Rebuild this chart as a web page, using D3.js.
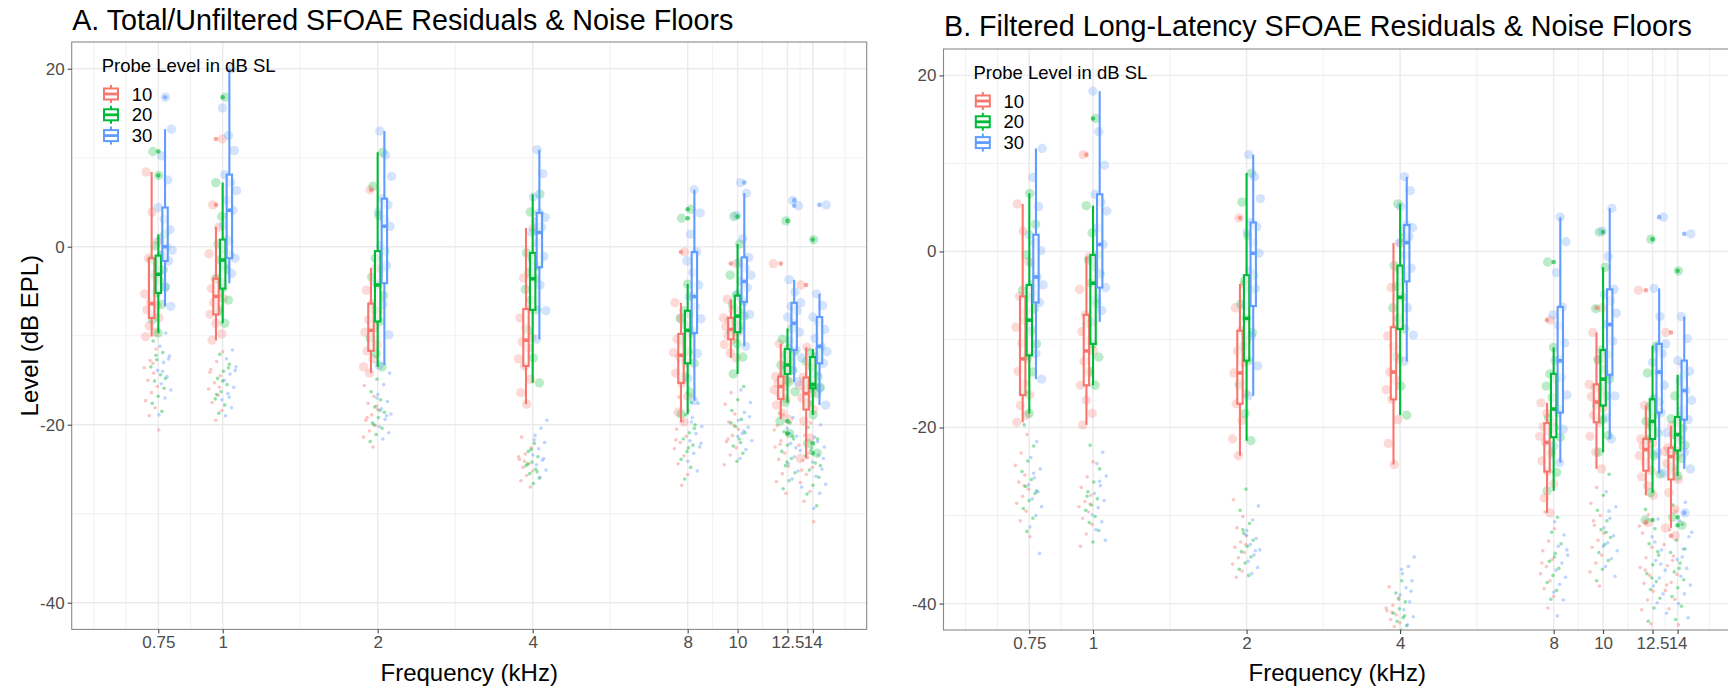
<!DOCTYPE html>
<html><head><meta charset="utf-8">
<script src="https://cdn.jsdelivr.net/npm/d3@7"></script>
<style>
body{margin:0;background:#fff;}
svg{display:block;font-family:"Liberation Sans",Arial,Helvetica,sans-serif;}
</style>
</head><body>
<svg id="chart" width="1728" height="689"></svg>
<script>
// ---------------- DATA ----------------
const freqs = [0.75, 1, 2, 4, 8, 10, 12.5, 14];
const freqLabels = ["0.75", "1", "2", "4", "8", "10", "12.5", "14"];
const levels = ["10", "20", "30"];
const levelColors = ["#F8766D", "#00BA38", "#619CFF"];
const yTicks = [20, 0, -20, -40];
const titles = ["A. Total/Unfiltered SFOAE Residuals & Noise Floors",
                "B. Filtered Long-Latency SFOAE Residuals & Noise Floors"];
const legendTitle = "Probe Level in dB SL";
const xTitle = "Frequency (kHz)";
const yTitle = "Level (dB EPL)";

// box stats per frequency: [lower whisker, q1, median, q3, upper whisker]
const boxA_10 = [[-10.1,-8.0,-6.4,-1.3,8.4],[-10.5,-7.6,-5.6,-3.6,2.2],[-14.2,-11.7,-9.4,-6.4,-2.4],[-17.7,-13.4,-10.5,-7.0,2.1],
                 [-19.7,-15.3,-12.2,-9.8,-6.3],[-12.5,-10.4,-9.3,-8.0,-5.9],[-19.4,-17.1,-15.7,-14.6,-10.9],[-23.8,-18.3,-16.5,-14.7,-11.3]];
const boxA_20 = [[-9.7,-5.2,-3.1,-1.0,1.4],[-8.6,-4.7,-1.5,0.8,7.2],[-13.5,-8.4,-4.3,-0.5,10.6],[-15.3,-7.1,-3.6,-0.7,5.9],
                 [-18.8,-13.1,-9.4,-7.2,-4.2],[-14.3,-9.6,-7.8,-5.5,0.3],[-17.5,-14.3,-13.3,-11.5,-9.2],[-18.9,-15.9,-15.5,-12.4,-11.5]];
const boxA_30 = [[-6.7,-1.6,0.0,4.4,13.2],[-4.1,-1.3,4.1,8.1,20.0],[-13.3,-4.1,2.3,5.4,13.0],[-10.4,-2.3,1.6,3.8,10.9],
                 [-17.3,-9.7,-5.6,-0.6,6.4],[-11.2,-6.2,-3.9,-1.2,6.0],[-15.2,-11.6,-8.6,-6.3,-3.7],[-17.8,-13.1,-11.2,-7.9,-5.3]];
const boxB_10 = [[-19.4,-16.3,-12.2,-5.1,5.4],[-19.7,-15.2,-11.3,-7.2,-0.6],[-23.2,-17.3,-13.8,-9.0,-3.7],[-24.2,-16.8,-13.7,-8.6,0.95],
                 [-29.7,-25.0,-21.7,-19.5,-17.2],[-24.7,-19.4,-17.1,-15.1,-9.2],[-27.7,-24.9,-22.5,-21.3,-17.5],[-31.4,-25.9,-23.3,-22.3,-19.8]];
const boxB_20 = [[-18.4,-11.8,-7.8,-3.8,6.6],[-15.2,-10.5,-3.6,-0.4,5.2],[-21.5,-12.4,-7.6,-2.7,8.9],[-18.6,-8.8,-5.2,-1.6,5.4],
                 [-27.2,-21.1,-17.9,-13.9,-10.9],[-22.8,-17.5,-14.5,-11.2,-1.8],[-27.4,-21.3,-19.3,-16.8,-10.7],[-25.5,-22.6,-20.8,-18.8,-14.0]];
const boxB_30 = [[-14.5,-5.8,-2.9,1.9,11.7],[-8.0,-4.1,0.8,6.5,18.2],[-16.4,-6.2,-0.2,3.3,11.0],[-12.5,-3.4,1.0,3.0,8.5],
                 [-24.0,-18.3,-12.4,-6.3,3.9],[-21.3,-14.0,-8.3,-4.3,4.9],[-25.2,-18.3,-13.7,-10.5,-4.2],[-24.7,-19.1,-15.8,-12.4,-7.4]];

// boxplot outliers per frequency
const outA_10 = [[],[12.1,4.7],[6.4],[],[-0.6],[-1.9],[-1.9],[-4.3]];
const outA_20 = [[10.7,8.0],[16.8],[],[],[4.2,3.2],[3.4],[2.9,-19.6,-21.0],[0.8,-22.1,-23.2]];
const outA_30 = [[16.8],[],[],[],[],[7.2],[5.2,4.6],[4.7]];
const outB_10 = [[],[11.0],[3.8],[],[-7.8],[-6.4],[-4.4,-30.8],[-9.2,-32.3]];
const outB_20 = [[],[15.1],[],[],[-1.2],[2.2],[1.4,-30.5],[-2.2,-30.2,-31.1]];
const outB_30 = [[],[],[],[],[],[],[3.9],[2.0,-29.7]];

// individual residual levels (jittered circles)
const resA_10 = [[-10.1,-9.6,-8.9,-8.0,-7.6,-7.1,-6.6,-6.2,-5.3,-3.4,-1.3,0.6,3.9,8.4],
  [-10.5,-9.8,-8.6,-7.6,-7.0,-6.3,-5.8,-5.4,-4.7,-4.0,-3.6,-0.8,2.2,4.7,12.1],
  [-14.2,-13.5,-12.6,-11.7,-11.0,-10.2,-9.6,-9.1,-8.2,-7.3,-6.4,-4.9,-2.4,6.4],
  [-17.7,-16.4,-14.9,-13.4,-12.6,-11.4,-10.7,-10.2,-9.1,-8.0,-7.0,-3.5,2.1],
  [-19.7,-18.6,-16.8,-15.3,-14.2,-13.0,-12.4,-11.9,-11.0,-10.4,-9.8,-8.0,-6.3,-0.6],
  [-12.5,-11.9,-11.0,-10.4,-10.0,-9.6,-9.3,-9.0,-8.6,-8.3,-8.0,-7.1,-5.9,-1.9],
  [-19.4,-18.7,-17.8,-17.1,-16.6,-16.1,-15.7,-15.4,-15.0,-14.8,-14.6,-13.2,-10.9,-1.9],
  [-23.8,-21.5,-19.6,-18.3,-17.6,-17.0,-16.5,-16.1,-15.6,-15.1,-14.7,-13.3,-11.3,-4.3]];
const resA_20 = [[-9.7,-8.2,-6.5,-5.2,-4.5,-3.8,-3.1,-2.6,-2.0,-1.5,-1.0,0.1,1.4,8.0,10.7],
  [-8.6,-7.3,-6.0,-4.7,-3.6,-2.5,-1.5,-0.9,-0.3,0.3,0.8,3.4,7.2,16.8],
  [-13.5,-12.0,-10.3,-8.4,-7.1,-5.5,-4.3,-3.4,-2.5,-1.3,-0.5,3.5,6.8,10.6],
  [-15.3,-12.5,-9.4,-7.1,-6.0,-4.8,-3.6,-2.9,-2.1,-1.4,-0.7,1.8,3.9,5.9],
  [-18.8,-16.4,-14.6,-13.1,-11.8,-10.5,-9.4,-8.8,-8.1,-7.6,-7.2,-5.6,-4.2,3.2,4.2],
  [-14.3,-12.4,-10.9,-9.6,-8.9,-8.3,-7.8,-7.2,-6.5,-6.0,-5.5,-3.2,0.3,3.4],
  [-17.5,-16.3,-15.2,-14.3,-13.9,-13.6,-13.3,-12.8,-12.2,-11.8,-11.5,-10.4,-9.2,2.9,-19.6,-21.0],
  [-18.9,-17.6,-16.5,-15.9,-15.8,-15.6,-15.5,-14.6,-13.6,-12.9,-12.4,-11.9,-11.5,0.8,-22.1,-23.2]];
const resA_30 = [[-6.7,-4.6,-2.9,-1.6,-0.9,-0.4,0.0,0.8,1.9,3.1,4.4,7.5,10.2,13.2,16.8],
  [-4.1,-3.0,-2.1,-1.3,0.6,2.4,4.1,5.2,6.3,7.2,8.1,10.8,12.5,15.6,20.0],
  [-13.3,-9.9,-6.5,-4.1,-2.1,0.1,2.3,3.1,3.9,4.7,5.4,7.9,10.3,13.0],
  [-10.4,-7.2,-4.3,-2.3,-1.1,0.4,1.6,2.2,2.8,3.3,3.8,5.6,8.2,10.9],
  [-17.3,-14.8,-12.0,-9.7,-8.1,-6.7,-5.6,-4.3,-2.9,-1.6,-0.6,1.4,3.8,6.4],
  [-11.2,-9.4,-7.6,-6.2,-5.3,-4.6,-3.9,-3.2,-2.4,-1.8,-1.2,0.9,3.5,6.0,7.2],
  [-15.2,-13.8,-12.5,-11.6,-10.6,-9.6,-8.6,-7.9,-7.2,-6.7,-6.3,-5.1,-3.7,4.6,5.2],
  [-17.8,-15.9,-14.2,-13.1,-12.4,-11.8,-11.2,-10.3,-9.3,-8.5,-7.9,-6.6,-5.3,4.7]];
const resB_10 = [[-19.4,-18.6,-17.5,-16.3,-15.0,-13.6,-12.2,-10.4,-8.6,-6.8,-5.1,-1.2,2.3,5.4],
  [-19.7,-18.4,-16.9,-15.2,-13.8,-12.5,-11.3,-10.2,-9.1,-8.1,-7.2,-4.3,-0.6,11.0],
  [-23.2,-21.3,-19.2,-17.3,-16.1,-14.9,-13.8,-12.6,-11.3,-10.1,-9.0,-6.4,-3.7,3.8],
  [-24.2,-21.8,-19.1,-16.8,-15.7,-14.6,-13.7,-12.2,-10.8,-9.6,-8.6,-4.1,0.95],
  [-29.7,-28.0,-26.4,-25.0,-23.8,-22.7,-21.7,-21.0,-20.4,-19.9,-19.5,-18.4,-17.2,-7.8],
  [-24.7,-22.8,-21.0,-19.4,-18.6,-17.8,-17.1,-16.5,-15.9,-15.5,-15.1,-12.3,-9.2,-6.4],
  [-27.7,-26.6,-25.6,-24.9,-24.0,-23.2,-22.5,-22.1,-21.8,-21.5,-21.3,-19.6,-17.5,-4.4,-30.8],
  [-31.4,-29.3,-27.4,-25.9,-25.0,-24.1,-23.3,-23.0,-22.7,-22.5,-22.3,-21.0,-19.8,-9.2,-32.3]];
const resB_20 = [[-18.4,-16.0,-13.7,-11.8,-10.5,-9.1,-7.8,-6.5,-5.2,-4.4,-3.8,-0.4,3.1,6.6],
  [-15.2,-13.6,-12.0,-10.5,-8.2,-5.9,-3.6,-2.6,-1.7,-1.0,-0.4,2.1,5.2,15.1],
  [-21.5,-18.4,-15.2,-12.4,-10.8,-9.2,-7.6,-6.0,-4.4,-3.4,-2.7,1.8,5.6,8.9],
  [-18.6,-15.3,-11.9,-8.8,-7.6,-6.4,-5.2,-4.0,-2.8,-2.1,-1.6,1.5,5.4],
  [-27.2,-25.1,-23.0,-21.1,-20.0,-18.9,-17.9,-16.6,-15.3,-14.5,-13.9,-12.3,-10.9,-1.2],
  [-22.8,-20.9,-19.1,-17.5,-16.4,-15.4,-14.5,-13.4,-12.3,-11.7,-11.2,-6.5,-1.8,2.2],
  [-27.4,-25.3,-23.2,-21.3,-20.6,-19.9,-19.3,-18.5,-17.6,-17.1,-16.8,-13.8,-10.7,1.4,-30.5],
  [-25.5,-24.5,-23.5,-22.6,-22.0,-21.4,-20.8,-20.1,-19.4,-19.0,-18.8,-16.4,-14.0,-2.2,-30.2,-31.1]];
const resB_30 = [[-14.5,-11.6,-8.7,-5.8,-4.8,-3.8,-2.9,-1.3,0.1,1.0,1.9,5.1,8.4,11.7],
  [-8.0,-6.7,-5.4,-4.1,-2.4,-0.8,0.8,2.7,4.6,5.6,6.5,9.8,13.6,18.2],
  [-16.4,-13.0,-9.6,-6.2,-4.2,-2.2,-0.2,1.0,2.2,2.8,3.3,6.0,8.5,11.0],
  [-12.5,-9.5,-6.4,-3.4,-1.9,-0.4,1.0,1.7,2.3,2.7,3.0,5.1,6.9,8.5],
  [-24.0,-22.1,-20.2,-18.3,-16.3,-14.3,-12.4,-10.4,-8.4,-7.2,-6.3,-2.4,1.1,3.9],
  [-21.3,-18.9,-16.4,-14.0,-12.1,-10.2,-8.3,-7.0,-5.6,-4.9,-4.3,-0.6,2.3,4.9],
  [-25.2,-22.9,-20.6,-18.3,-16.7,-15.2,-13.7,-12.6,-11.6,-11.0,-10.5,-7.4,-4.2,3.9],
  [-24.7,-22.8,-21.0,-19.1,-18.0,-16.9,-15.8,-14.7,-13.6,-12.9,-12.4,-9.9,-7.4,2.0,-29.7]];

// noise floor levels (small jittered dots)
const noiseA_10 = [[-11.5,-12.8,-13.6,-14.2,-15.0,-15.7,-16.4,-17.3,-18.1,-19.0,-20.6,-13.1],
  [-11.8,-12.9,-13.8,-14.5,-15.3,-16.0,-16.7,-17.5,-18.4,-19.5,-14.1,-15.8],
  [-15.6,-16.8,-17.6,-18.3,-18.9,-19.5,-20.1,-20.7,-21.4,-22.5,-19.2,-17.9],
  [-21.4,-22.6,-23.3,-23.9,-24.4,-24.8,-25.2,-25.7,-26.3,-27.0,-24.1,-23.6],
  [-16.9,-18.4,-19.6,-20.5,-21.3,-22.0,-22.7,-23.5,-24.4,-25.6,-26.8,-21.7],
  [-16.4,-17.7,-18.8,-19.7,-20.5,-21.2,-21.9,-22.6,-23.4,-24.5,-20.1,-21.6],
  [-18.9,-20.1,-21.0,-21.8,-22.5,-23.2,-23.9,-24.7,-25.5,-26.4,-27.7,-22.2,-20.6],
  [-19.8,-21.2,-22.3,-23.2,-24.0,-24.8,-25.6,-26.5,-27.5,-28.6,-30.9,-23.7,-25.1]];
const noiseA_20 = [[-10.6,-11.9,-12.7,-13.5,-14.4,-15.1,-15.9,-16.8,-17.6,-18.5,-12.2,-14.8],
  [-12.1,-13.2,-14.0,-14.8,-15.5,-16.3,-17.1,-17.8,-18.7,-13.6,-15.1,-16.6],
  [-14.9,-16.3,-17.2,-18.0,-18.6,-19.2,-19.8,-20.4,-21.1,-21.9,-18.4,-20.0],
  [-22.1,-23.0,-23.6,-24.2,-24.6,-25.0,-25.5,-26.0,-26.6,-24.4,-25.3,-22.8],
  [-17.5,-18.9,-20.0,-20.9,-21.6,-22.3,-23.0,-23.9,-24.8,-26.1,-20.4,-22.6],
  [-15.7,-17.2,-18.4,-19.4,-20.2,-20.9,-21.6,-22.4,-23.2,-24.1,-19.8,-22.0],
  [-18.7,-19.8,-20.8,-21.6,-22.3,-23.0,-23.8,-24.6,-25.4,-26.3,-27.2,-21.3,-24.2],
  [-20.3,-21.6,-22.6,-23.5,-24.3,-25.1,-25.9,-26.8,-27.8,-29.1,-22.9,-24.6]];
const noiseA_30 = [[-9.7,-11.2,-12.3,-13.0,-13.9,-14.6,-15.4,-16.1,-17.0,-18.9,-12.6,-14.0],
  [-11.6,-12.6,-13.5,-14.3,-15.0,-15.8,-16.5,-17.2,-18.1,-19.0,-13.9,-16.9],
  [-14.2,-15.5,-16.6,-17.4,-18.2,-18.8,-19.4,-20.2,-20.9,-21.6,-17.0,-19.0],
  [-19.5,-20.4,-21.2,-22.0,-22.7,-23.4,-24.0,-24.5,-25.1,-25.9,-21.7,-23.8],
  [-15.8,-17.6,-19.2,-20.2,-21.0,-21.8,-22.5,-23.2,-24.1,-25.2,-19.7,-22.1],
  [-16.1,-17.5,-18.6,-19.5,-20.3,-21.0,-21.8,-22.8,-23.8,-19.1,-20.7,-21.3],
  [-19.2,-20.4,-21.3,-22.1,-22.9,-23.6,-24.4,-25.2,-26.1,-27.0,-22.6,-21.0],
  [-20.0,-21.4,-22.5,-23.4,-24.2,-25.0,-25.8,-26.7,-27.7,-29.4,-23.8,-21.9]];
const noiseB_10 = [[-20.8,-22.9,-24.3,-25.4,-26.2,-27.0,-27.8,-28.6,-29.5,-30.6,-32.4,-26.6],
  [-23.9,-25.6,-26.8,-27.7,-28.4,-29.0,-29.6,-30.3,-31.0,-32.1,-33.5,-28.7],
  [-28.2,-30.1,-31.4,-32.3,-33.0,-33.6,-34.2,-34.8,-35.5,-36.3,-37.0,-33.3],
  [-38.1,-39.3,-40.2,-40.8,-41.3,-41.8,-42.2,-42.6,-43.1,-43.8,-41.0,-40.5],
  [-29.6,-31.5,-32.9,-34.0,-35.0,-35.8,-36.6,-37.4,-38.3,-39.2,-40.5,-35.4],
  [-26.8,-28.6,-30.0,-31.1,-32.0,-32.8,-33.6,-34.5,-35.4,-36.4,-38.0,-30.6],
  [-29.9,-32.0,-33.6,-34.8,-35.9,-36.8,-37.7,-38.6,-39.6,-40.7,-42.3,-36.2,-31.2],
  [-29.5,-31.6,-33.3,-34.6,-35.7,-36.7,-37.6,-38.5,-39.5,-40.6,-42.4,-35.1,-37.9]];
const noiseB_20 = [[-19.7,-22.1,-23.8,-25.0,-25.9,-26.7,-27.5,-28.3,-29.2,-30.3,-31.8,-27.2],
  [-22.0,-24.7,-26.2,-27.3,-28.1,-28.8,-29.4,-30.1,-30.8,-31.7,-33.0,-27.8],
  [-27.0,-29.4,-30.9,-32.0,-32.8,-33.5,-34.1,-34.7,-35.4,-36.1,-36.8,-31.6],
  [-37.4,-38.8,-39.8,-40.6,-41.1,-41.6,-42.0,-42.5,-43.0,-44.0,-41.4,-39.5],
  [-30.2,-31.9,-33.2,-34.3,-35.2,-36.0,-36.8,-37.6,-38.5,-39.5,-43.5,-34.7],
  [-25.3,-27.7,-29.4,-30.6,-31.6,-32.5,-33.3,-34.2,-35.1,-36.1,-37.4,-31.9],
  [-29.3,-31.5,-33.2,-34.5,-35.6,-36.6,-37.5,-38.4,-39.4,-40.5,-42.0,-34.1,-37.1],
  [-28.8,-31.0,-32.8,-34.2,-35.4,-36.4,-37.3,-38.2,-39.2,-40.3,-41.8,-33.8,-36.0]];
const noiseB_30 = [[-21.6,-23.4,-24.7,-25.7,-26.5,-27.3,-28.1,-29.0,-30.0,-31.3,-34.3,-25.2],
  [-22.8,-24.1,-25.5,-26.6,-27.5,-28.3,-29.1,-29.9,-30.7,-31.6,-32.8,-26.1],
  [-28.9,-30.5,-31.7,-32.6,-33.3,-33.9,-34.5,-35.2,-35.9,-36.6,-32.2,-34.0],
  [-34.7,-35.8,-36.6,-37.4,-38.2,-39.0,-39.8,-40.7,-41.5,-42.4,-36.1,-38.6],
  [-30.7,-32.2,-33.5,-34.5,-35.4,-36.2,-37.0,-37.8,-38.7,-39.6,-41.4,-33.9],
  [-27.3,-29.0,-30.3,-31.4,-32.3,-33.1,-34.0,-34.9,-35.8,-36.9,-29.5,-33.5],
  [-30.4,-32.4,-33.9,-35.1,-36.2,-37.1,-38.0,-38.9,-39.9,-41.1,-35.5,-33.0],
  [-28.5,-30.6,-32.4,-33.8,-35.0,-36.0,-36.9,-37.9,-38.9,-40.0,-41.6,-34.7,-31.9]];

// ---------------- LAYOUT ----------------
const panels = [
  {title: titles[0], titleY: 30, left: 71.7, right: 866.7, top: 42, bottom: 629.4, yTitle: true,
   box: [boxA_10, boxA_20, boxA_30], out: [outA_10, outA_20, outA_30],
   res: [resA_10, resA_20, resA_30], noise: [noiseA_10, noiseA_20, noiseA_30]},
  {title: titles[1], titleY: 36, left: 943.5, right: 1731, top: 49, bottom: 630, yTitle: false,
   box: [boxB_10, boxB_20, boxB_30], out: [outB_10, outB_20, outB_30],
   res: [resB_10, resB_20, resB_30], noise: [noiseB_10, noiseB_20, noiseB_30]}
];

const svg = d3.select("#chart");
const xLogDomain = [-0.974, 4.155];     // in log2(kHz)
const yDomain = [-43, 23];
const dodge = 0.0432;                   // log2 units between levels
const boxHalf = 0.0175;                 // half box width, log2 units
const resJit = 0.05, noiseJit = 0.05;
const GR = 0.6180339887;

function jitter(i, k) { const v = (i * GR + k * 0.38196 + 0.11) % 1; return v - 0.5; }

panels.forEach((p, pi) => {
  const x = d3.scaleLog().base(2)
      .domain([Math.pow(2, xLogDomain[0]), Math.pow(2, xLogDomain[1])])
      .range([p.left, p.right]);
  const y = d3.scaleLinear().domain(yDomain).range([p.bottom, p.top]);
  const xs = (f, off) => x(f * Math.pow(2, off));
  const g = svg.append("g");
  const clipId = "clip" + pi;
  svg.append("clipPath").attr("id", clipId).append("rect")
     .attr("x", p.left).attr("y", p.top).attr("width", p.right - p.left).attr("height", p.bottom - p.top);

  // minor x breaks (ggplot regular_minor_breaks on log2 scale)
  const b = freqs.map(Math.log2);
  const bd = b[1] - b[0];
  const ext = [b[0] - bd, ...b, b[b.length - 1] + bd];
  const minorX = [];
  for (let i = 0; i < ext.length - 1; i++) { minorX.push(ext[i], (ext[i] + ext[i + 1]) / 2); }
  minorX.push(ext[ext.length - 1]);
  const minorY = d3.range(yTicks.length - 1).map(i => (yTicks[i] + yTicks[i + 1]) / 2);

  const grid = g.append("g").attr("clip-path", `url(#${clipId})`);
  grid.selectAll(".mx").data(minorX).join("line")
    .attr("x1", d => x(Math.pow(2, d))).attr("x2", d => x(Math.pow(2, d)))
    .attr("y1", p.top).attr("y2", p.bottom).attr("stroke", "#EBEBEB").attr("stroke-width", 0.7);
  grid.selectAll(".my").data(minorY).join("line")
    .attr("y1", d => y(d)).attr("y2", d => y(d))
    .attr("x1", p.left).attr("x2", p.right).attr("stroke", "#EBEBEB").attr("stroke-width", 0.7);
  grid.selectAll(".Mx").data(freqs).join("line")
    .attr("x1", d => x(d)).attr("x2", d => x(d))
    .attr("y1", p.top).attr("y2", p.bottom).attr("stroke", "#EBEBEB").attr("stroke-width", 1.4);
  grid.selectAll(".My").data(yTicks).join("line")
    .attr("y1", d => y(d)).attr("y2", d => y(d))
    .attr("x1", p.left).attr("x2", p.right).attr("stroke", "#EBEBEB").attr("stroke-width", 1.4);

  const plot = g.append("g").attr("clip-path", `url(#${clipId})`);

  // noise floor dots
  levels.forEach((lv, li) => {
    const off = (li - 1) * dodge;
    freqs.forEach((f, fi) => {
      plot.append("g").selectAll("circle").data(p.noise[li][fi]).join("circle")
        .attr("cx", (d, i) => xs(f, off + jitter(i, fi * 3 + li + 7) * 2 * noiseJit))
        .attr("cy", d => y(d)).attr("r", 1.8)
        .attr("fill", levelColors[li]).attr("fill-opacity", 0.42);
    });
  });
  // residual circles
  levels.forEach((lv, li) => {
    const off = (li - 1) * dodge;
    freqs.forEach((f, fi) => {
      plot.append("g").selectAll("circle").data(p.res[li][fi]).join("circle")
        .attr("cx", (d, i) => xs(f, off + jitter(i, fi * 3 + li) * 2 * resJit))
        .attr("cy", d => y(d)).attr("r", 4.7)
        .attr("fill", levelColors[li]).attr("fill-opacity", 0.27);
    });
  });
  // boxplots
  levels.forEach((lv, li) => {
    const off = (li - 1) * dodge;
    const c = levelColors[li];
    freqs.forEach((f, fi) => {
      const [lo, q1, md, q3, hi] = p.box[li][fi];
      const bg = plot.append("g");
      const cx = xs(f, off), xl = xs(f, off - boxHalf), xr = xs(f, off + boxHalf);
      bg.append("line").attr("x1", cx).attr("x2", cx).attr("y1", y(q3)).attr("y2", y(hi))
        .attr("stroke", c).attr("stroke-width", 2.1);
      bg.append("line").attr("x1", cx).attr("x2", cx).attr("y1", y(q1)).attr("y2", y(lo))
        .attr("stroke", c).attr("stroke-width", 2.1);
      bg.append("rect").attr("x", xl).attr("width", xr - xl).attr("y", y(q3)).attr("height", y(q1) - y(q3))
        .attr("fill", "#fff").attr("fill-opacity", 0.6).attr("stroke", c).attr("stroke-width", 2.1);
      bg.append("line").attr("x1", xl).attr("x2", xr).attr("y1", y(md)).attr("y2", y(md))
        .attr("stroke", c).attr("stroke-width", 3.6);
      bg.selectAll(".o").data(p.out[li][fi]).join("circle")
        .attr("cx", cx).attr("cy", d => y(d)).attr("r", 2.3)
        .attr("fill", c).attr("fill-opacity", 0.65);
    });
  });

  // panel border
  g.append("rect").attr("x", p.left).attr("y", p.top).attr("width", p.right - p.left).attr("height", p.bottom - p.top)
    .attr("fill", "none").attr("stroke", "#8a8a8a").attr("stroke-width", 1.1);

  // axes
  const xAxis = d3.axisBottom(x).tickValues(freqs).tickFormat((d, i) => freqLabels[i]).tickSize(4).tickPadding(3);
  const gx = g.append("g").attr("transform", `translate(0,${p.bottom})`).call(xAxis);
  const yAxis = d3.axisLeft(y).tickValues(yTicks).tickFormat(d3.format("d")).tickSize(4).tickPadding(3);
  const gy = g.append("g").attr("transform", `translate(${p.left},0)`).call(yAxis);
  [gx, gy].forEach(a => {
    a.select(".domain").remove();
    a.selectAll(".tick line").attr("stroke", "#333").attr("stroke-width", 1);
    a.selectAll(".tick text").attr("fill", "#4D4D4D").style("font-size", "17px")
      .style("font-family", "'Liberation Sans', Arial, sans-serif");
  });
  gy.selectAll(".tick text").text(d => d < 0 ? "-" + Math.abs(d) : d);

  // titles
  g.append("text").attr("x", p.left + 0.5).attr("y", p.titleY).text(p.title)
    .style("font-size", "28.7px").attr("fill", "#000");
  g.append("text").attr("x", (p.left + p.right) / 2).attr("y", 681).attr("text-anchor", "middle")
    .text(xTitle).style("font-size", "24px").attr("fill", "#000");
  if (p.yTitle) {
    g.append("text").attr("transform", `translate(38,${(p.top + p.bottom) / 2}) rotate(-90)`)
      .attr("text-anchor", "middle").text(yTitle).style("font-size", "24px").attr("fill", "#000");
  }

  // legend
  const lg = g.append("g").attr("transform", `translate(${p.left},${p.top})`);
  lg.append("text").attr("x", 30).attr("y", 29.5).text(legendTitle).style("font-size", "18.5px").attr("fill", "#000");
  levels.forEach((lv, li) => {
    const cy = 52 + li * 20.8, cx = 39.3, c = levelColors[li];
    lg.append("line").attr("x1", cx).attr("x2", cx).attr("y1", cy - 9).attr("y2", cy + 9).attr("stroke", c).attr("stroke-width", 2);
    lg.append("rect").attr("x", cx - 7).attr("y", cy - 5.5).attr("width", 14).attr("height", 11)
      .attr("fill", "#fff").attr("stroke", c).attr("stroke-width", 2);
    lg.append("line").attr("x1", cx - 7).attr("x2", cx + 7).attr("y1", cy).attr("y2", cy).attr("stroke", c).attr("stroke-width", 2.8);
    lg.append("text").attr("x", 60).attr("y", cy + 6.5).text(lv).style("font-size", "18.5px").attr("fill", "#000");
  });
});
</script>
</body></html>
